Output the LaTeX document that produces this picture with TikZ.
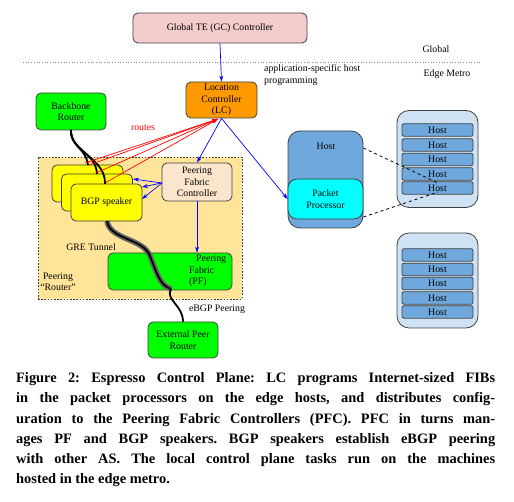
\documentclass[tikz,border=0pt]{standalone}
\usepackage{fontspec}
\setmainfont{Liberation Serif}
\newfontfamily\diagfont{Liberation Serif}
\usetikzlibrary{arrows.meta}
\definecolor{gcpink}{HTML}{F4CCCC}
\definecolor{lcorange}{HTML}{FF9900}
\definecolor{brgreen}{HTML}{00FF00}
\definecolor{peerbg}{HTML}{FFE599}
\definecolor{bgpyellow}{HTML}{FFFF00}
\definecolor{pfcpeach}{HTML}{FCE5CD}
\definecolor{hostblue}{HTML}{6FA8DC}
\definecolor{rackblue}{HTML}{CFE2F3}
\definecolor{ppcyan}{HTML}{00FFFF}
\definecolor{edgegray}{HTML}{404040}
\begin{document}
\begin{tikzpicture}[x=1pt,y=-1pt,
  lbl/.style={font=\diagfont\fontsize{9.8}{11.5}\selectfont, inner sep=0pt, align=center},
  box/.style={lbl, draw=edgegray, line width=0.8pt, rounded corners=5pt},
  bgpbox/.style={box, fill=bgpyellow, minimum width=71pt, minimum height=37pt},
  hostcell/.style={box, fill=hostblue, rounded corners=2pt, minimum width=71pt, minimum height=12.5pt},
  rack/.style={draw=edgegray, line width=0.8pt, rounded corners=12pt, fill=rackblue, minimum width=81pt, minimum height=97pt, inner sep=0pt},
  ctl/.style={blue, line width=0.7pt, -{Stealth[length=6pt,width=4pt]}},
  rt/.style={red, line width=0.7pt, -{Stealth[length=6pt,width=4pt]}},
  cable/.style={black, line width=1.8pt},
  caption/.style={font=\diagfont\bfseries\fontsize{14.4}{20.2}\selectfont, inner sep=0pt, text width=479pt, align=justify, anchor=north west}
]
\useasboundingbox (0,0) rectangle (514,502);

% separator
\draw[gray, dotted, line width=0.7pt] (23,62) -- (480,62);
\node[lbl, anchor=base] (glob) at (436,53) {Global};
\node[lbl, anchor=base] (edge) at (447,77) {Edge Metro};
\node[lbl, anchor=north west, align=left] (app) at (264,64.5) {application-specific host\\programming};

% top controllers
\node[box, fill=gcpink, minimum width=174pt, minimum height=30pt] (gc) at (220,28) {Global TE (GC) Controller};
\node[box, fill=lcorange, minimum width=71pt, minimum height=36pt] (lc) at (221.5,100) {Location\\Controller\\(LC)};
\node[box, fill=brgreen, minimum width=70pt, minimum height=37pt] (bb) at (71,111.5) {Backbone\\Router};

% peering router area
\node[draw=edgegray, line width=0.8pt, dash pattern=on 1.6pt off 1.6pt, fill=peerbg, minimum width=204pt, minimum height=142pt, inner sep=0pt] (area) at (140,228) {};
\node[lbl] (prouter) at (58,282) {Peering\\“Router”};
\node[lbl] (gre) at (91,247) {GRE Tunnel};

\node[bgpbox] (bgp1) at (87.5,183.5) {BGP speaker};
\node[bgpbox] (bgp2) at (97,192.5) {BGP speaker};
\node[bgpbox] (bgp3) at (106.5,202.5) {BGP speaker};

\node[box, fill=pfcpeach, minimum width=70pt, minimum height=38pt] (pfc) at (197,182) {Peering\\Fabric\\Controller};
\node[box, fill=brgreen, minimum width=124pt, minimum height=37pt] (pf) at (170,271.5) {};
\node[lbl, align=left, anchor=north west] (pftext) at (189,255) {\hspace*{7pt}Peering\\Fabric\\(PF)};

\node[box, fill=brgreen, minimum width=70pt, minimum height=36pt] (ext) at (183,340) {External Peer\\Router};
\node[lbl] (ebgp) at (217,309) {eBGP Peering};

% host with packet processor
\node[draw=edgegray, line width=0.8pt, rounded corners=12pt, fill=hostblue, minimum width=75pt, minimum height=97pt, inner sep=0pt] (host) at (325.5,179.5) {};
\node[lbl] (hosttext) at (326,146) {Host};
\node[box, fill=ppcyan, rounded corners=9pt, minimum width=75pt, minimum height=40pt] (pp) at (325.5,199) {Packet\\Processor};

% racks
\node[rack] (rack1) at (437.5,159) {};
\node[hostcell] (h11) at (437.5,130) {Host};
\node[hostcell] (h12) at (437.5,145) {Host};
\node[hostcell] (h13) at (437.5,159.5) {Host};
\node[hostcell] (h14) at (437.5,174) {Host};
\node[hostcell] (h15) at (437.5,188) {Host};

\node[rack, minimum height=95pt] (rack2) at (437.5,280.5) {};
\node[hostcell] (h21) at (437.5,255) {Host};
\node[hostcell] (h22) at (437.5,269.5) {Host};
\node[hostcell] (h23) at (437.5,283.5) {Host};
\node[hostcell] (h24) at (437.5,298) {Host};
\node[hostcell] (h25) at (437.5,312) {Host};

\coordinate (d1) at (438,183);
\coordinate (d2) at (438,192);
\draw[black, dashed, line width=0.8pt] (host.north east |- 0,148) -- (d1);
\draw[black, dashed, line width=0.8pt] (host.north east |- 0,217) -- (d2);

% blue control arrows
\draw[ctl] (gc.south) -- (lc.north);
\draw[ctl] (lc.south) -- (pfc.north);
\draw[ctl] (lc.south) -- (pp.west);
\draw[ctl] (pfc.south) -- (pf.north -| pfc.south);
\coordinate (pfl) at (162,183);
\coordinate (b1) at (133,179);
\coordinate (b2) at (142,187);
\coordinate (b3) at (142,199);
\draw[ctl] (pfl) -- (b1);
\draw[ctl] (pfl) -- (b2);
\draw[ctl] (pfl) -- (b3);

% backbone cables
\coordinate (bbs) at (71,130);
\coordinate (c1) at (88,165);
\coordinate (c2) at (97,174);
\coordinate (c3) at (105,184);
\draw[cable] (bbs) .. controls (70,146) and (86,148) .. (c1);
\draw[cable] (bbs) .. controls (70,150) and (96,152) .. (c2);
\draw[cable] (bbs) .. controls (70,152) and (106,158) .. (c3);

% routes (red)
\node[lbl, text=red] (routes) at (143,128) {routes};
\coordinate (lcs) at (218,119);
\coordinate (r1) at (85,163);
\coordinate (r2) at (89,165);
\coordinate (r3) at (96,173);
\coordinate (r4) at (105,183);
\draw[rt] (r1) -- (lcs);
\draw[rt] (r2) -- (lcs);
\draw[rt] (r3) -- (lcs);
\draw[rt] (r4) -- (lcs);

% GRE tunnel
\coordinate (t0) at (107,221);
\coordinate (t1) at (171,289);
\draw[gray!80!black, line width=5.5pt] (t0) .. controls (110,240) and (143,238) .. (150,256) .. controls (158,276) and (160,285) .. (t1);
\draw[cable] (t0) .. controls (110,240) and (143,238) .. (150,256) .. controls (158,276) and (160,285) .. (t1);
\draw[cable] (t1) .. controls (165,300) and (183,305) .. (ext.north);

% caption
\node[caption] (cap) at (16,372.5) {\frenchspacing Figure 2: Espresso Control Plane: LC programs Internet-sized FIBs\linebreak
in the packet processors on the edge hosts, and distributes config-\linebreak
uration to the Peering Fabric Controllers (PFC). PFC in turns man-\linebreak
ages PF and BGP speakers. BGP speakers establish eBGP peering\linebreak
with other AS. The local control plane tasks run on the machines\linebreak
hosted in the edge metro.};
\end{tikzpicture}
\end{document}
